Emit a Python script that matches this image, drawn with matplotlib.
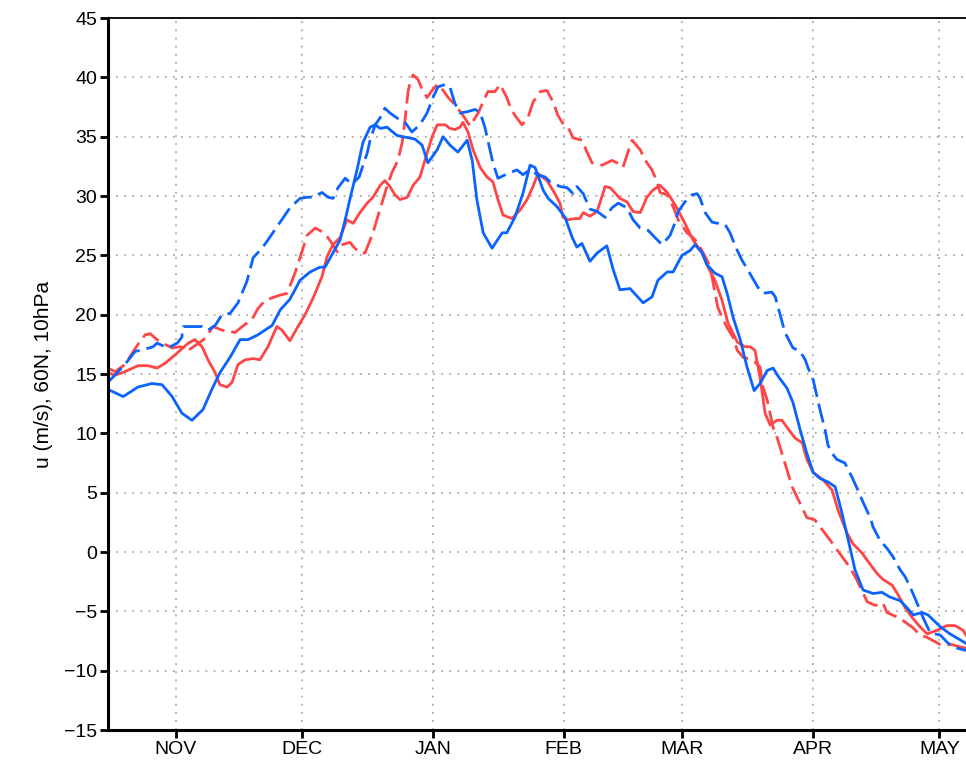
import numpy as np
import matplotlib
matplotlib.use('Agg')
import matplotlib.pyplot as plt

# days since 16 Oct, zonal wind u at 60N 10hPa (m/s)
rs_day = [0, 1.7, 4.0, 7.1, 9.5, 11.6, 13.5, 15.2, 17.1, 19.0, 20.6, 22.3, 23.7, 25.4, 26.5, 28.2, 29.4,
          30.8, 32.5, 34.4, 36.0, 37.9, 40.0, 41.2, 43.1, 45.0, 46.7, 48.6, 50.7, 51.9, 53.3, 55.0, 56.6,
          58.1, 59.7, 61.4, 62.8, 64.5, 65.6, 66.8, 68.0, 69.2, 70.9, 72.3, 73.9, 75.1, 76.8, 78.0, 79.9,
          81.0, 82.2, 83.4, 84.1, 85.3, 86.5, 88.2, 89.8, 91.2, 92.4, 93.6, 95.7, 97.6, 99.3, 100.7, 101.9,
          104.0, 105.9, 107.1, 107.8, 109.0, 110.7, 111.8, 112.6, 114.2, 115.9, 117.8, 119.0, 121.3, 123.0,
          124.4, 126.1, 127.7, 129.1, 130.8, 132.5, 133.6, 135.1, 136.7, 138.6, 140.8, 142.2, 143.8, 145.5,
          146.9, 149.1, 150.9, 152.1, 153.3, 154.5, 155.7, 156.9, 158.5, 159.7, 161.1, 162.8, 164.5, 165.6,
          167.1, 169.4, 171.6, 173.0, 175.1, 176.5, 178.7, 180.1, 182.2, 183.6, 185.8, 187.2, 188.9, 190.5,
          192.4, 194.1, 196.4, 198.8, 200.7, 202.6, 203.3]
rs_val = [15.1, 14.9, 15.2, 15.7, 15.7, 15.5, 15.9, 16.4, 17.0, 17.6, 17.9, 17.3, 16.2, 15.1, 14.1, 13.9, 14.3,
          15.8, 16.2, 16.3, 16.2, 17.3, 19.0, 18.7, 17.8, 19.0, 20.0, 21.4, 23.2, 24.9, 25.9, 26.5, 28.0,
          27.7, 28.6, 29.4, 29.9, 30.9, 31.3, 30.8, 30.1, 29.7, 29.9, 30.9, 31.6, 33.0, 35.0, 36.0, 36.0,
          35.7, 35.6, 35.8, 36.2, 35.4, 33.9, 32.4, 31.6, 31.2, 29.7, 28.4, 28.1, 28.8, 29.7, 30.8, 31.9,
          31.3, 30.2, 29.4, 28.2, 28.0, 28.1, 28.1, 28.6, 28.3, 28.7, 30.8, 30.7, 29.8, 29.5,
          28.7, 28.6, 29.9, 30.5, 30.9, 30.3, 29.7, 28.8, 27.7, 26.3, 25.2, 24.0, 22.9, 21.2,
          19.3, 17.7, 17.3, 17.3, 17.0, 14.7, 11.7, 10.7, 11.1, 11.1, 10.4, 9.6, 9.2, 7.8,
          6.7, 6.1, 5.2, 3.5, 1.6, 0.7, -0.1, -0.8, -1.8, -2.3, -2.8, -3.6, -4.7, -5.5,
          -6.3, -6.9, -6.6, -6.2, -6.2, -6.6, -7.0]

rd_day = [0, 1.7, 4.0, 6.9, 8.8, 10.0, 11.6, 13.5, 15.2, 17.1, 19.0, 21.1, 23.0, 24.9, 27.0, 30.1, 31.8,
          34.1, 35.5, 37.2, 40.3, 42.4, 44.3, 45.5, 47.2, 49.1, 50.7, 52.1, 53.1, 54.3, 55.5, 57.3, 58.5,
          59.7, 60.9, 62.8, 63.7, 66.1, 67.3, 68.7, 69.7, 70.4, 71.1, 71.6, 72.3, 73.5, 74.4, 75.6, 76.8,
          78.0, 79.4, 80.6, 82.2, 84.1, 85.8, 87.7, 90.0, 91.7, 92.9, 94.5, 95.3, 96.4, 98.1, 99.5, 100.7,
          102.4, 104.0, 105.5, 106.6, 107.6, 109.0, 110.2, 112.3, 113.5, 114.7, 117.1, 119.4, 120.6, 122.0,
          123.2, 124.2, 126.1, 127.3, 128.9, 130.1, 130.8, 132.5, 133.9, 135.1, 137.2, 138.6, 139.8, 141.5,
          142.7, 143.1, 144.5, 145.5, 146.7, 148.1, 149.1, 150.5, 151.7, 153.3, 154.5, 155.2, 156.2, 157.6,
          158.5, 159.7, 160.4, 162.1, 163.3, 165.6, 167.5, 171.1, 172.3, 175.8, 177.5, 179.9, 181.8, 183.6,
          184.6, 187.7, 190.8, 192.4, 194.1, 197.2, 200.0, 201.9, 203.3]
rd_val = [15.5, 15.2, 15.8, 17.4, 18.3, 18.4, 17.9, 17.5, 17.2, 17.3, 17.0, 17.5, 18.0, 19.0, 18.7, 18.5, 19.0,
          19.6, 20.5, 21.2, 21.6, 21.8, 23.5, 24.8, 26.7, 27.3, 27.0, 26.5, 26.0, 25.3, 25.9, 26.1, 25.6,
          25.2, 25.2, 26.9, 28.0, 30.8, 32.0, 33.0, 34.5, 36.5, 38.8, 39.6, 40.2, 39.8, 39.0, 38.3, 38.9,
          39.4, 38.9, 38.3, 37.7, 36.8, 35.9, 37.0, 38.8, 38.8, 39.4, 38.3, 37.5, 36.8, 36.0, 36.6, 37.9,
          38.8, 38.9, 37.9, 36.8, 36.2, 35.8, 34.9, 34.7, 33.7, 32.8, 32.6, 33.0, 32.8, 32.4,
          33.7, 34.7, 33.9, 33.0, 32.2, 31.2, 30.3, 30.1, 29.1, 28.0, 26.9, 26.5, 26.0, 24.9,
          24.0, 23.2, 20.6, 19.8, 18.9, 18.1, 17.0, 16.4, 16.3, 16.0, 15.6, 13.9, 12.8, 10.5,
          9.7, 8.3, 7.5, 5.5, 4.6, 2.9, 2.7, 1.0, 0.4, -1.3, -2.4, -4.2, -4.5, -4.3,
          -5.1, -5.6, -6.4, -7.0, -7.2, -7.8, -7.8, -8.0, -8.1]

bs_day = [0, 3.6, 7.1, 10.4, 12.8, 15.2, 17.5, 19.9, 22.5, 24.6, 26.5, 28.9, 31.3, 33.2, 35.5, 38.9, 40.8,
          43.1, 45.5, 47.9, 50.2, 51.4, 53.3, 55.0, 56.2, 57.3, 59.0, 60.4, 62.1, 63.3, 64.5, 66.1, 68.5,
          69.9, 72.7, 74.4, 75.8, 78.0, 79.4, 81.0, 82.9, 85.1, 86.3, 87.4, 88.9, 91.0, 93.4, 94.5, 96.4,
          98.3, 100.0, 101.2, 103.1, 104.3, 106.4, 108.3, 110.0, 111.1, 112.3, 114.2, 115.9, 118.2, 119.7,
          121.3, 123.7, 126.8, 128.9, 130.3, 132.5, 133.9, 136.0, 137.9, 139.1, 140.8, 141.9, 143.8, 145.5,
          146.7, 148.1, 149.8, 151.4, 153.1, 154.5, 156.2, 157.6, 158.8, 160.9, 162.3, 164.0, 165.6, 167.1,
          168.7, 170.6, 172.3, 173.9, 175.4, 177.0, 178.9, 181.3, 183.4, 185.3, 187.7, 189.3, 190.8, 192.9,
          194.3, 197.2, 199.5, 201.9, 203.3]
bs_val = [13.7, 13.1, 13.9, 14.2, 14.1, 13.1, 11.7, 11.1, 12.0, 13.7, 15.1, 16.4, 17.9, 17.9, 18.3, 19.1, 20.4,
          21.3, 22.9, 23.6, 24.0, 24.0, 25.2, 26.3, 28.0, 29.7, 32.2, 34.5, 35.8, 36.0, 35.7, 35.8, 35.1,
          35.0, 34.8, 34.3, 32.8, 33.9, 35.0, 34.3, 33.7, 34.7, 33.0, 29.7, 26.9, 25.6, 26.9, 26.9, 28.2,
          30.2, 32.6, 32.4, 30.5, 29.8, 29.1, 28.2, 26.5, 25.7, 26.0, 24.5, 25.2, 25.8, 23.8,
          22.1, 22.2, 21.0, 21.5, 22.9, 23.6, 23.6, 25.0, 25.4, 25.9, 25.2, 24.2, 23.5, 23.2,
          21.8, 19.8, 17.9, 15.6, 13.6, 14.2, 15.3, 15.5, 14.8, 13.8, 12.6, 10.3, 8.3, 6.7,
          6.2, 5.9, 5.5, 3.3, 1.0, -1.5, -3.2, -3.5, -3.4, -3.8, -4.1, -4.7, -5.3, -5.1,
          -5.3, -6.3, -6.9, -7.4, -7.7]

bd_day = [0, 4.0, 6.4, 8.8, 10.7, 11.6, 14.2, 16.4, 17.5, 17.8, 19.9, 22.3, 23.7, 25.4, 27.0, 28.9, 30.8,
          32.9, 34.4, 36.5, 37.9, 40.8, 43.1, 45.5, 47.2, 48.6, 50.7, 52.1, 53.3, 54.5, 56.2, 57.8, 59.5,
          61.4, 62.1, 63.3, 64.5, 65.6, 66.8, 69.2, 70.4, 72.0, 73.9, 75.6, 77.0, 78.2, 79.9, 81.0, 82.2,
          83.4, 85.1, 87.0, 88.2, 89.3, 90.5, 91.2, 92.4, 94.8, 96.9, 98.3, 100.0, 101.7, 103.6, 104.7,
          107.1, 108.8, 110.2, 111.1, 112.6, 114.2, 115.9, 117.8, 119.4, 120.9, 123.0, 124.4, 126.1, 128.0,
          129.6, 131.3, 133.2, 134.4, 135.1, 136.7, 138.4, 139.6, 140.3, 141.5, 143.1, 144.5, 146.2, 147.4,
          148.6, 150.2, 151.4, 154.0, 155.2, 157.3, 158.1, 158.8, 160.4, 162.3, 164.0, 165.2, 165.9, 167.1,
          168.7, 169.9, 170.6, 171.6, 172.7, 174.6, 176.3, 177.7, 178.9, 180.6, 181.3, 182.9, 184.6, 186.0,
          187.7, 188.9, 190.0, 191.7, 193.1, 194.8, 196.0, 197.2, 199.1, 201.2, 203.3]
bd_val = [14.3, 15.8, 16.9, 17.1, 17.3, 17.6, 17.2, 17.6, 18.1, 19.0, 19.0, 19.0, 18.7, 19.1, 20.0, 20.1, 21.0,
          22.8, 24.8, 25.6, 26.3, 27.8, 29.0, 29.8, 29.9, 29.9, 30.3, 29.9, 29.8, 30.7, 31.5, 31.0, 31.6,
          33.6, 34.7, 36.0, 36.6, 37.4, 37.0, 36.4, 36.2, 35.4, 36.0, 37.0, 38.3, 39.2, 39.4, 39.2, 37.8,
          37.0, 37.1, 37.3, 37.0, 35.8, 33.9, 32.8, 31.5, 31.9, 32.2, 31.8, 32.2, 31.8, 31.6, 31.2,
          30.8, 30.7, 30.2, 30.8, 30.2, 28.9, 28.7, 28.2, 29.0, 29.4, 29.0, 28.0, 27.3, 27.1,
          26.5, 25.9, 26.7, 27.8, 28.7, 29.5, 30.1, 30.2, 29.8, 28.6, 27.8, 27.7, 27.6, 26.9,
          25.8, 24.6, 23.9, 22.3, 21.8, 21.9, 21.5, 20.6, 18.5, 17.2, 16.9, 16.2, 15.5, 14.5,
          12.0, 10.3, 9.0, 8.3, 7.8, 7.5, 6.3, 5.2, 4.2, 2.9, 2.1, 1.0, 0.3, -0.4,
          -1.5, -2.1, -2.9, -4.3, -5.5, -6.8, -6.9, -7.0, -7.7, -8.1, -8.3]

month_days = [16, 46, 77, 108, 136, 167, 197]
month_labels = ['NOV', 'DEC', 'JAN', 'FEB', 'MAR', 'APR', 'MAY']

red = '#ff4545'
blue = '#0a62ff'

plt.rcParams['font.family'] = ['Liberation Sans Narrow', 'Liberation Sans', 'DejaVu Sans']

fig = plt.figure(figsize=(9.66, 7.64), dpi=100)
ax = fig.add_axes([0.1118, 0.0445, 0.8882, 0.9319])

ax.plot(rs_day, rs_val, color=red, lw=2.0, solid_joinstyle='round')
ax.plot(rd_day, rd_val, color=red, lw=2.0, dashes=(7, 2.5))
ax.plot(bs_day, bs_val, color=blue, lw=2.0, solid_joinstyle='round')
ax.plot(bd_day, bd_val, color=blue, lw=2.0, dashes=(7, 2.5))

ax.set_xlim(0, 203.3)
ax.set_ylim(-15, 45)
ax.set_yticks(np.arange(-15, 46, 5))
ax.set_xticks(month_days)
ax.set_xticklabels(month_labels)
ax.grid(True, color='#aaaaaa', linestyle=(0, (1, 3.5)), lw=1.3)

ax.spines['right'].set_visible(False)
ax.spines['left'].set_linewidth(2.2)
ax.spines['bottom'].set_linewidth(2.2)
ax.spines['top'].set_linestyle((0, (3, 1)))
ax.spines['top'].set_linewidth(1.3)
ax.tick_params(axis='both', direction='out', length=6, width=2, labelsize=14, pad=2)

ax.set_ylabel('u (m/s), 60N, 10hPa', fontsize=15, labelpad=8)

plt.savefig('out.png', dpi=100)
